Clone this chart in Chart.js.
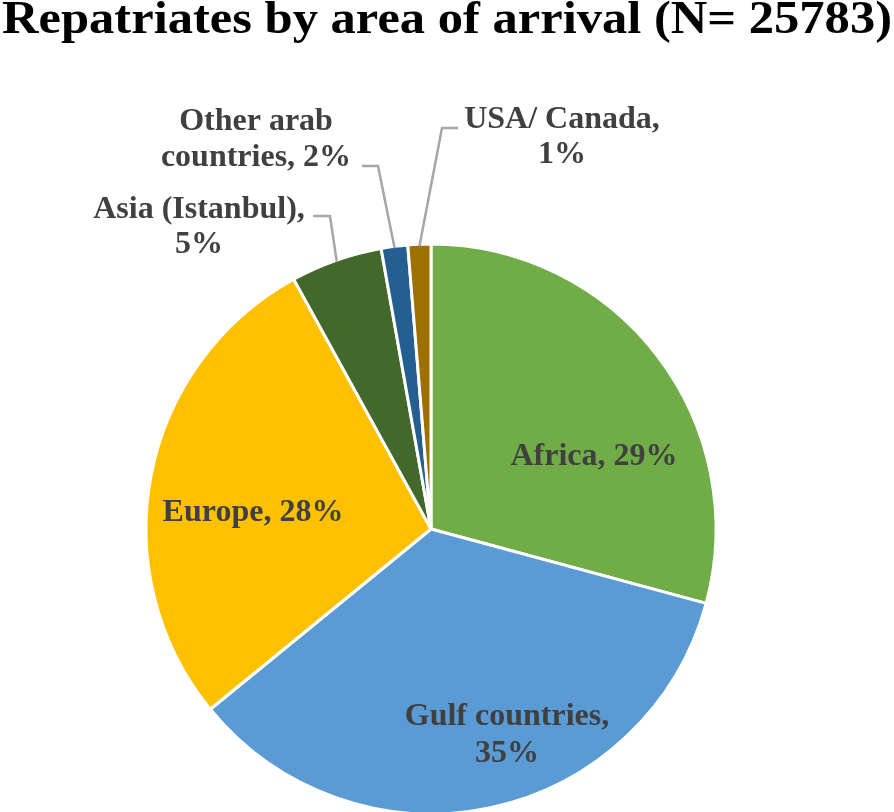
<!DOCTYPE html>
<html>
<head>
<meta charset="utf-8">
<script src="https://cdn.jsdelivr.net/npm/chart.js@4.4.0/dist/chart.umd.min.js"></script>
<style>
  html, body { margin: 0; padding: 0; background: #fff; }
  #wrap { width: 894px; height: 812px; }
</style>
</head>
<body>
<div id="wrap"><canvas id="pieChart" width="894" height="812"></canvas></div>
<script>
// datos del grafico
var chartTitle = 'Repatriates by area of arrival (N= 25783)';
var areas = ['Africa', 'Gulf countries', 'Europe', 'Asia (Istanbul)', 'Other arab countries', 'USA/ Canada'];
var shares = [29.2, 34.9, 27.9, 5.2, 1.5, 1.3];
var shareLabels = ['29%', '35%', '28%', '5%', '2%', '1%'];
var sliceColors = ['#70AD47', '#5B9BD5', '#FFC000', '#43682B', '#255E91', '#9E7000'];

// ubicacion de las etiquetas (texto en lineas, centro, elbow de la linea guia)
var labelSpecs = [
    { lines: ['Africa, 29%'], x: 594, y: 457, gap: 37 },
    { lines: ['Gulf countries,', '35%'], x: 507, y: 717, gap: 37 },
    { lines: ['Europe, 28%'], x: 253, y: 513, gap: 37 },
    { lines: ['Asia (Istanbul),', '5%'], x: 199, y: 210, gap: 35, lead: { sx: 313, sy: 216, ex: 330 } },
    { lines: ['Other arab', 'countries, 2%'], x: 256, y: 122, gap: 36, lead: { sx: 362, sy: 166, ex: 378 } },
    { lines: ['USA/ Canada,', '1%'], x: 562, y: 120, gap: 35, lead: { sx: 458, sy: 128, ex: 442 } }
];

var labelPlugin = {
    id: 'labelPlugin',
    afterDraw: function (chart) {
        var ctx = chart.ctx;
        var arcs = chart.getDatasetMeta(0).data;

        // lineas guia
        ctx.save();
        ctx.strokeStyle = '#A6A6A6';
        ctx.lineWidth = 2.5;
        labelSpecs.forEach(function (spec, i) {
            if (!spec.lead) return;
            var p = arcs[i].getProps(['x', 'y', 'startAngle', 'endAngle', 'outerRadius'], true);
            var mid = (p.startAngle + p.endAngle) / 2;
            var r = p.outerRadius - 2;
            ctx.beginPath();
            ctx.moveTo(spec.lead.sx, spec.lead.sy);
            ctx.lineTo(spec.lead.ex, spec.lead.sy);
            ctx.lineTo(p.x + Math.cos(mid) * r, p.y + Math.sin(mid) * r);
            ctx.stroke();
        });
        ctx.restore();

        // textos
        ctx.save();
        ctx.fillStyle = '#404040';
        ctx.font = 'bold 32px "Liberation Serif", "Times New Roman", serif';
        ctx.textAlign = 'center';
        ctx.textBaseline = 'middle';
        labelSpecs.forEach(function (spec) {
            spec.lines.forEach(function (line, k) {
                ctx.fillText(line, spec.x, spec.y + k * spec.gap);
            });
        });
        ctx.restore();

        // titulo (condensado para ocupar todo el ancho)
        ctx.save();
        ctx.fillStyle = '#000';
        ctx.font = 'bold 47px "Liberation Serif", "Times New Roman", serif';
        ctx.textAlign = 'left';
        ctx.textBaseline = 'alphabetic';
        var w = ctx.measureText(chartTitle).width;
        var sx = 890 / w;
        ctx.translate(2, 33);
        ctx.scale(sx, 1);
        ctx.fillText(chartTitle, 0, 0);
        ctx.restore();
    }
};

var ctx = document.getElementById('pieChart').getContext('2d');
var pieChart = new Chart(ctx, {
    type: 'pie',
    data: {
        labels: areas,
        datasets: [{
            data: shares,
            backgroundColor: sliceColors,
            borderColor: '#FFFFFF',
            borderWidth: 3,
            radius: 285
        }]
    },
    options: {
        responsive: false,
        animation: false,
        layout: {
            padding: { top: 246, bottom: 0, left: 0, right: 32 }
        },
        plugins: {
            legend: { display: false },
            tooltip: { enabled: false },
            title: { display: false }
        }
    },
    plugins: [labelPlugin]
});
</script>
</body>
</html>
